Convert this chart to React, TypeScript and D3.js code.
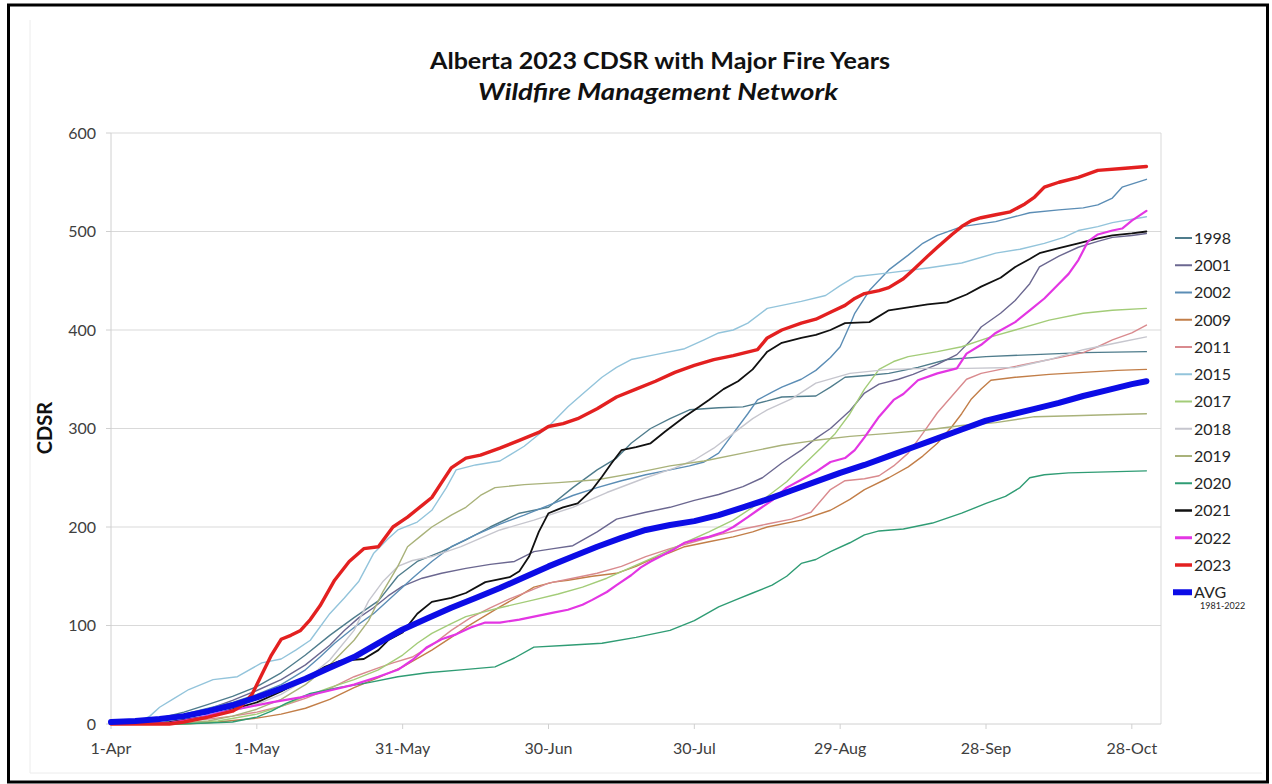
import React from "react";
import * as d3 from "d3";

type P = [number, number];

const tickDays = [0, 30, 60, 90, 120, 150, 180, 210];
const tickLabels = ["1-Apr", "1-May", "31-May", "30-Jun", "30-Jul", "29-Aug", "28-Sep", "28-Oct"];
const yTicks = [0, 100, 200, 300, 400, 500, 600];

const s1998: P[] = [[0,0],[5,1],[10,6],[15,12],[20,20],[25,28],[30,38],[35,52],[40,70],[45,90],[50,108],[55,125],[59,150],[63,165],[68,175],[73,187],[78,200],[84,214],[90,220],[95,240],[100,258],[104,270],[107,285],[111,300],[115,310],[119,319],[125,321],[130,322],[135,328],[138,332],[145,333],[148,342],[151,352],[156,354],[160,356],[166,362],[172,370],[180,373],[190,375],[200,377],[213,378]];
const s2001: P[] = [[0,0],[5,0],[10,4],[15,9],[20,15],[25,24],[30,34],[35,45],[40,60],[45,80],[48,95],[51,108],[54,118],[57,130],[60,140],[64,148],[68,153],[73,158],[78,162],[83,165],[87,175],[91,178],[95,181],[100,195],[104,208],[110,215],[115,220],[120,227],[125,233],[130,241],[134,250],[138,265],[142,278],[145,290],[148,300],[152,318],[155,336],[158,345],[162,350],[165,355],[170,365],[174,375],[177,390],[179,403],[183,417],[186,430],[189,447],[191,464],[195,475],[199,484],[203,490],[206,494],[210,496],[213,498]];
const s2002: P[] = [[0,0],[5,1],[10,5],[15,10],[20,16],[25,22],[30,30],[35,40],[40,55],[43,68],[46,82],[50,98],[54,112],[58,130],[62,148],[66,165],[70,180],[75,192],[80,203],[85,212],[90,222],[95,232],[100,240],[105,247],[110,253],[115,258],[119,262],[122,266],[125,275],[128,295],[131,315],[133,329],[136,337],[138,342],[142,350],[145,359],[148,372],[150,383],[152,405],[153,417],[156,440],[160,461],[164,476],[167,488],[170,496],[175,505],[182,510],[189,519],[195,522],[200,524],[203,527],[206,534],[208,545],[213,553]];
const s2009: P[] = [[0,0],[15,0],[22,2],[30,6],[35,10],[40,16],[45,25],[50,37],[55,47],[60,58],[66,75],[70,88],[73,98],[77,110],[80,119],[84,130],[87,139],[91,144],[94,146],[99,150],[104,153],[108,160],[111,167],[115,174],[118,180],[123,185],[128,190],[132,195],[135,200],[142,207],[148,217],[152,228],[155,238],[160,250],[164,261],[167,272],[170,285],[173,302],[175,315],[177,330],[179,340],[181,349],[186,352],[193,355],[200,357],[207,359],[213,360]];
const s2011: P[] = [[0,0],[10,0],[15,3],[20,5],[25,8],[30,12],[35,18],[40,26],[45,36],[50,48],[55,57],[58,62],[62,68],[66,80],[70,95],[74,108],[78,118],[82,127],[86,135],[90,143],[95,148],[100,153],[105,160],[110,170],[115,178],[120,185],[125,192],[130,198],[135,203],[140,208],[144,215],[148,238],[151,247],[155,249],[158,252],[161,262],[164,275],[167,295],[170,316],[173,333],[176,350],[179,356],[185,362],[190,367],[195,372],[200,377],[203,383],[206,390],[210,397],[213,405]];
const s2015: P[] = [[0,0],[5,1],[8,8],[10,17],[13,26],[16,35],[21,45],[26,48],[31,62],[35,66],[38,75],[41,85],[45,112],[48,128],[51,145],[54,173],[57,188],[59,197],[63,205],[66,217],[69,240],[71,258],[75,263],[80,267],[85,282],[90,302],[94,322],[97,335],[101,352],[104,362],[107,370],[112,375],[118,381],[122,390],[125,397],[128,400],[131,407],[135,422],[139,426],[142,429],[147,435],[150,445],[153,454],[160,458],[168,463],[175,468],[182,478],[187,482],[192,488],[196,494],[199,501],[203,505],[206,509],[213,515]];
const s2017: P[] = [[0,0],[15,0],[22,3],[30,10],[35,18],[40,28],[45,37],[50,45],[55,55],[60,70],[63,82],[66,92],[70,102],[73,109],[80,118],[87,126],[92,132],[97,139],[102,148],[107,159],[112,170],[118,184],[123,195],[128,207],[132,220],[135,231],[139,246],[142,261],[146,280],[149,295],[152,315],[155,340],[158,360],[161,368],[164,373],[170,378],[175,383],[181,393],[186,400],[193,410],[200,417],[206,420],[213,422]];
const s2018: P[] = [[0,0],[8,0],[15,4],[20,8],[25,13],[30,20],[35,30],[40,45],[45,65],[50,95],[53,125],[56,145],[59,160],[62,166],[66,170],[72,180],[80,197],[87,207],[95,220],[102,235],[110,250],[116,260],[120,268],[124,280],[128,295],[132,310],[135,319],[140,330],[145,346],[152,356],[160,360],[168,361],[176,361],[186,362],[193,370],[200,380],[207,387],[213,393]];
const s2019: P[] = [[0,0],[12,0],[20,3],[25,8],[30,15],[35,25],[40,40],[45,60],[50,85],[53,105],[56,135],[59,160],[61,180],[64,192],[66,200],[70,212],[73,220],[76,232],[79,240],[85,243],[92,245],[100,248],[108,255],[115,262],[122,267],[130,275],[138,283],[145,288],[152,292],[160,295],[167,298],[175,303],[182,306],[190,312],[198,313],[205,314],[213,315]];
const s2020: P[] = [[0,0],[14,0],[20,1],[25,2],[30,7],[33,13],[36,21],[41,31],[47,37],[53,42],[59,48],[65,52],[72,55],[79,58],[83,67],[87,78],[94,80],[101,82],[108,88],[115,95],[120,105],[125,119],[129,127],[132,133],[136,141],[139,150],[142,163],[145,167],[148,175],[152,184],[155,192],[158,196],[163,198],[169,204],[175,214],[180,224],[184,231],[187,240],[189,250],[192,253],[197,255],[205,256],[213,257]];
const s2021: P[] = [[0,0],[8,0],[12,2],[20,8],[30,22],[35,33],[40,46],[44,58],[47,64],[52,66],[55,75],[57,85],[60,93],[63,112],[66,124],[70,128],[73,133],[77,144],[82,149],[84,155],[86,170],[88,195],[90,214],[93,220],[96,224],[99,238],[101,251],[103,265],[105,278],[108,281],[111,285],[114,297],[118,312],[121,322],[123,329],[126,340],[129,348],[132,360],[135,378],[138,387],[142,392],[145,395],[148,400],[151,407],[156,408],[160,420],[164,423],[168,426],[172,428],[176,436],[179,444],[183,453],[186,464],[189,472],[191,478],[195,483],[199,488],[203,493],[206,496],[210,498],[213,500]];
const s2022: P[] = [[0,0],[12,1],[18,6],[22,11],[27,16],[33,22],[39,27],[45,34],[50,40],[55,48],[59,55],[62,65],[65,78],[68,86],[71,91],[74,98],[77,103],[80,103],[84,106],[87,109],[91,113],[94,116],[97,121],[99,126],[102,134],[104,141],[107,151],[109,159],[111,165],[113,170],[116,178],[118,184],[121,188],[123,190],[126,195],[128,200],[131,210],[133,217],[136,227],[139,240],[142,248],[145,256],[148,266],[151,270],[153,278],[155,291],[158,312],[161,329],[163,335],[166,349],[170,356],[174,361],[176,376],[179,385],[182,397],[186,408],[189,420],[192,432],[195,447],[197,457],[199,471],[201,490],[203,497],[206,501],[208,503],[210,511],[213,521]];
const s2023: P[] = [[0,0],[12,0],[15,2],[20,7],[25,13],[27,19],[29,30],[31,50],[33,70],[35,86],[37,90],[39,95],[41,106],[43,120],[46,146],[49,165],[52,178],[55,180],[58,200],[61,210],[64,222],[66,230],[68,245],[70,260],[73,270],[76,273],[80,280],[84,288],[88,296],[90,302],[93,305],[96,310],[100,320],[104,332],[108,340],[112,348],[116,357],[120,364],[124,370],[128,374],[133,380],[135,392],[138,400],[142,407],[145,411],[148,418],[151,425],[153,432],[155,437],[158,440],[160,443],[163,452],[165,461],[168,475],[170,484],[173,497],[175,505],[177,511],[179,514],[182,517],[185,520],[188,528],[190,535],[192,545],[195,550],[199,555],[203,562],[208,564],[213,566]];
const sAvg: P[] = [[0,2],[5,3],[10,5],[15,8],[20,13],[25,19],[30,27],[35,36],[40,46],[45,57],[50,68],[55,82],[60,96],[65,107],[70,118],[75,128],[80,138],[85,149],[90,160],[95,170],[100,180],[105,189],[110,197],[115,202],[120,206],[125,212],[130,220],[135,228],[140,237],[145,246],[150,255],[155,263],[160,272],[165,281],[170,290],[175,299],[180,308],[185,314],[190,320],[195,326],[200,333],[205,339],[210,345],[213,348]];

const seriesNames = ["1998", "2001", "2002", "2009", "2011", "2015", "2017", "2018", "2019", "2020", "2021", "2022", "2023", "AVG"];
const seriesData = [s1998, s2001, s2002, s2009, s2011, s2015, s2017, s2018, s2019, s2020, s2021, s2022, s2023, sAvg];
const seriesColors = ["#4f7c8c", "#6b6790", "#5b8db5", "#c27e48", "#d98a8e", "#93c4db", "#a3cc78", "#c6c6ce", "#a9b27a", "#2f9c74", "#111111", "#e336e3", "#e32020", "#0c0ce6"];
const seriesWidths = [1.4, 1.4, 1.4, 1.4, 1.4, 1.4, 1.4, 1.4, 1.4, 1.4, 1.8, 2.2, 3.4, 6];
const legendWidths = [2, 2, 2, 2, 2, 2, 2, 2, 2, 2, 2.5, 3, 3.5, 6];

const FONT = "Lato, 'Open Sans', sans-serif";

export default function App() {
  const x = d3.scaleLinear().domain([0, 216]).range([111, 1161]);
  const y = d3.scaleLinear().domain([0, 600]).range([724, 133]);
  const line = d3.line<P>().x((d) => x(d[0])).y((d) => y(d[1])).curve(d3.curveLinear);

  const legendY0 = 238;
  const legendStep = 27.25;

  return (
    <svg width={1272} height={784} style={{ position: "absolute", left: 0, top: 0, background: "#fff" }} fontFamily={FONT}>
      <rect x={0} y={0} width={1272} height={784} fill="#fff" />
      <rect x={8.5} y={5} width={1259} height={777} fill="none" stroke="#000" strokeWidth={3} />
      <line x1={30} y1={20} x2={30} y2={773} stroke="#ececec" strokeWidth={1} />
      <line x1={30} y1={773} x2={1262} y2={773} stroke="#ececec" strokeWidth={1} />

      <text x={660} y={69} textAnchor="middle" fontSize={22} fontWeight="bold" fill="#111" textLength={460} lengthAdjust="spacingAndGlyphs">
        Alberta 2023 CDSR with Major Fire Years
      </text>
      <text x={658} y={100} textAnchor="middle" fontSize={22} fontWeight="bold" fontStyle="italic" fill="#111" textLength={360} lengthAdjust="spacingAndGlyphs">
        Wildfire Management Network
      </text>

      {yTicks.filter((t) => t > 0).map((t) => (
        <line key={"g" + t} x1={x(0)} x2={x(216)} y1={y(t)} y2={y(t)} stroke="#d9d9d9" strokeWidth={1} />
      ))}
      <line x1={x(216)} x2={x(216)} y1={y(600)} y2={y(0)} stroke="#d9d9d9" strokeWidth={1} />
      <line x1={x(0)} x2={x(0)} y1={y(600)} y2={y(0)} stroke="#d0d0d0" strokeWidth={1} />
      <line x1={x(0)} x2={x(216)} y1={y(0)} y2={y(0)} stroke="#d0d0d0" strokeWidth={1} />
      {yTicks.map((t) => (
        <g key={"y" + t}>
          <line x1={x(0) - 5} x2={x(0)} y1={y(t)} y2={y(t)} stroke="#d0d0d0" />
          <text x={96} y={y(t)} dy="0.35em" textAnchor="end" fontSize={16} fill="#404040">{t}</text>
        </g>
      ))}
      {tickDays.map((d, i) => (
        <g key={"x" + d}>
          <line x1={x(d)} x2={x(d)} y1={y(0)} y2={y(0) + 5} stroke="#d0d0d0" />
          <text x={x(d)} y={754} textAnchor="middle" fontSize={16} fill="#404040">{tickLabels[i]}</text>
        </g>
      ))}
      <text transform="translate(52,428) rotate(-90)" textAnchor="middle" fontSize={20} fontWeight="bold" fill="#111">CDSR</text>

      {seriesData.map((s, i) => (
        <path key={"s" + i} d={line(s) || ""} fill="none" stroke={seriesColors[i]} strokeWidth={seriesWidths[i]} strokeLinejoin="round" strokeLinecap="round" />
      ))}

      {seriesNames.map((n, i) => {
        const cy = legendY0 + i * legendStep;
        const isAvg = n === "AVG";
        return (
          <g key={"l" + n}>
            <line x1={isAvg ? 1173 : 1175} x2={1192} y1={cy} y2={cy} stroke={seriesColors[i]} strokeWidth={legendWidths[i]} />
            <text x={1194} y={cy} dy="0.36em" fontSize={16} fill="#262626">{n}</text>
          </g>
        );
      })}
      <text x={1200} y={legendY0 + 13 * legendStep + 17} fontSize={9} fill="#262626">1981-2022</text>
    </svg>
  );
}
